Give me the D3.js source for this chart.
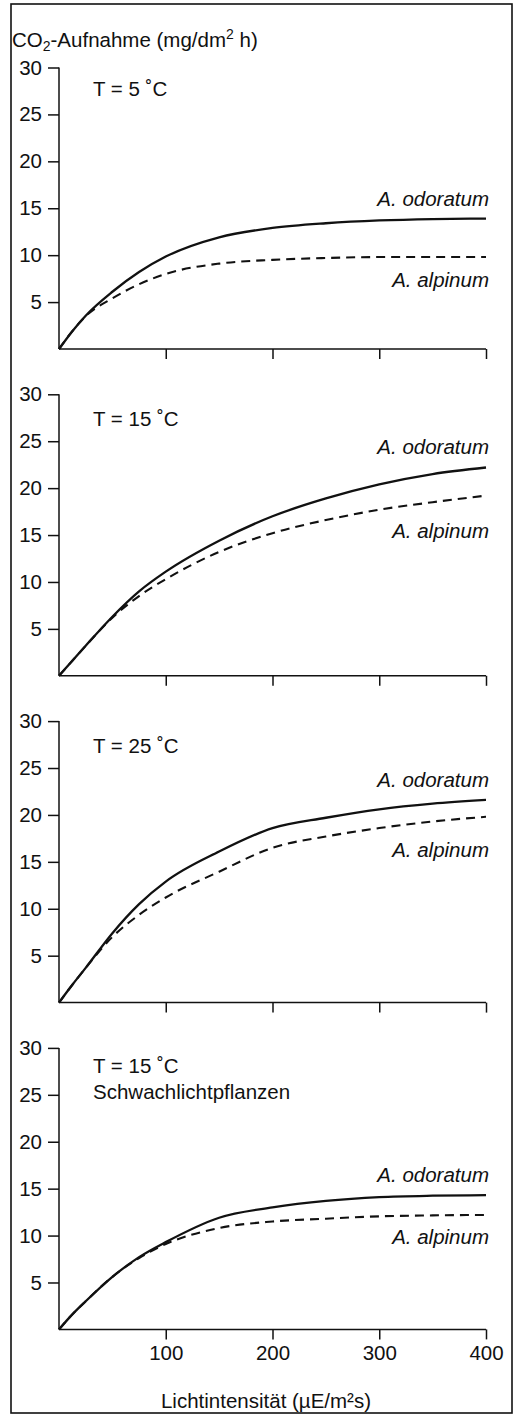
<!DOCTYPE html>
<html>
<head>
<meta charset="utf-8">
<script src="https://cdn.jsdelivr.net/npm/d3@7"></script>
<style>
    html, body { margin: 0; padding: 0; background: #fff; }
    svg { display: block; }
    text { font-family: "Liberation Sans", Arial, sans-serif; font-size: 20.5px; fill: #111; }
</style>
</head>
<body>
<div id="chart"></div>
<script>
const lightX = [0, 12.5, 25, 50, 75, 100, 150, 200, 250, 300, 350, 400];

// CO2 uptake (mg/dm² h), one row per panel
const odoratum = [
    [0, 1.9, 3.55, 6.1, 8.2, 9.85, 11.9, 12.9, 13.4, 13.7, 13.85, 13.9],
    [0, 1.6, 3.2, 6.3, 9.0, 11.1, 14.4, 17.0, 18.9, 20.4, 21.5, 22.2],
    [0, 1.9, 3.7, 7.4, 10.5, 12.9, 16.1, 18.6, 19.7, 20.6, 21.2, 21.6],
    [0, 1.6, 3.0, 5.6, 7.7, 9.3, 11.9, 13.0, 13.7, 14.1, 14.25, 14.3]
];
const alpinum = [
    [0, 1.9, 3.5, 5.4, 6.9, 8.0, 9.1, 9.5, 9.7, 9.8, 9.8, 9.8],
    [0, 1.6, 3.2, 6.2, 8.5, 10.3, 13.2, 15.2, 16.6, 17.7, 18.5, 19.2],
    [0, 1.9, 3.7, 7.0, 9.35, 11.2, 13.95, 16.5, 17.7, 18.6, 19.3, 19.8],
    [0, 1.6, 3.0, 5.6, 7.6, 9.1, 10.8, 11.5, 11.8, 12.05, 12.15, 12.2]
];

const panelTitles = [
    ["T = 5 ˚C"],
    ["T = 15 ˚C"],
    ["T = 25 ˚C"],
    ["T = 15 ˚C", "Schwachlichtpflanzen"]
];
const speciesNames = ["A. odoratum", "A. alpinum"];
const yTicks = [5, 10, 15, 20, 25, 30];
const xTicks = [100, 200, 300, 400];

document.addEventListener('DOMContentLoaded', function () {
    const width = 527;
    const height = 1414;
    const left = 59, right = 486;
    const firstZero = 349;
    const panelStep = 326.8;
    const panelHeight = 281.5;

    // layout tweaks for the text, px
    const titleDy = [28, 32, 32, 25];
    const alpinumDy = [30, 42, 40, 29];

    const svg = d3.select("#chart")
        .append("svg")
        .attr("width", width)
        .attr("height", height);

    // outer frame
    svg.append("rect")
        .attr("x", 11).attr("y", 4)
        .attr("width", 501).attr("height", 1409)
        .attr("fill", "none")
        .attr("stroke", "#111")
        .attr("stroke-width", 1.6);

    const x = d3.scaleLinear().domain([0, 400]).range([left, right]);

    // y axis title
    const yTitle = svg.append("text").attr("x", 12).attr("y", 47);
    yTitle.append("tspan").text("CO");
    yTitle.append("tspan").attr("font-size", "14px").attr("dy", 4).text("2");
    yTitle.append("tspan").attr("dy", -4).text("-Aufnahme (mg/dm");
    yTitle.append("tspan").attr("font-size", "14px").attr("dy", -8).text("2");
    yTitle.append("tspan").attr("dy", 8).text(" h)");

    panelTitles.forEach(function (titles, i) {
        const zero = firstZero + i * panelStep;
        const y = d3.scaleLinear().domain([0, 30]).range([zero, zero - panelHeight]);
        const g = svg.append("g");

        const yAxis = g.append("g")
            .attr("transform", `translate(${left},0)`)
            .call(d3.axisLeft(y).tickValues(yTicks).tickSize(11).tickSizeOuter(0).tickPadding(6));

        const xAxis = g.append("g")
            .attr("transform", `translate(0,${zero})`)
            .call(d3.axisBottom(x).tickValues(xTicks).tickSize(10).tickSizeOuter(0));

        [yAxis, xAxis].forEach(a => {
            a.selectAll("path, line").attr("stroke", "#111").attr("stroke-width", 1.5);
            a.selectAll("text").attr("font-size", null).attr("font-family", null).attr("fill", "#111");
        });
        yAxis.select(".domain").attr("d", `M0,${y(0)}V${y(30)}`);
        xAxis.select(".domain").attr("d", `M${x(0)},0H${x(400)}`);

        if (i < panelTitles.length - 1) {
            xAxis.selectAll(".tick text").remove();
        } else {
            xAxis.selectAll(".tick text").attr("y", 31).attr("dy", null);
        }

        const line = d3.line()
            .x((d, k) => x(lightX[k]))
            .y(d => y(d))
            .curve(d3.curveMonotoneX);

        g.append("path")
            .datum(alpinum[i])
            .attr("d", line)
            .attr("fill", "none")
            .attr("stroke", "#111")
            .attr("stroke-width", 2.1)
            .attr("stroke-dasharray", "9,6");

        g.append("path")
            .datum(odoratum[i])
            .attr("d", line)
            .attr("fill", "none")
            .attr("stroke", "#111")
            .attr("stroke-width", 2.3);

        // panel title
        titles.forEach(function (t, k) {
            g.append("text")
                .attr("x", 93)
                .attr("y", y(30) + titleDy[i] + k * 26)
                .text(t);
        });

        // species labels at the right end of the curves
        const last = lightX.length - 1;
        g.append("text")
            .attr("x", 489)
            .attr("y", y(odoratum[i][last]) - 13)
            .attr("text-anchor", "end")
            .attr("font-style", "italic")
            .text(speciesNames[0]);
        g.append("text")
            .attr("x", 489)
            .attr("y", y(alpinum[i][last]) + alpinumDy[i])
            .attr("text-anchor", "end")
            .attr("font-style", "italic")
            .text(speciesNames[1]);
    });

    // x axis title
    svg.append("text")
        .attr("x", 266)
        .attr("y", 1408)
        .attr("text-anchor", "middle")
        .text("Lichtintensität (µE/m²s)");
});
</script>
</body>
</html>
